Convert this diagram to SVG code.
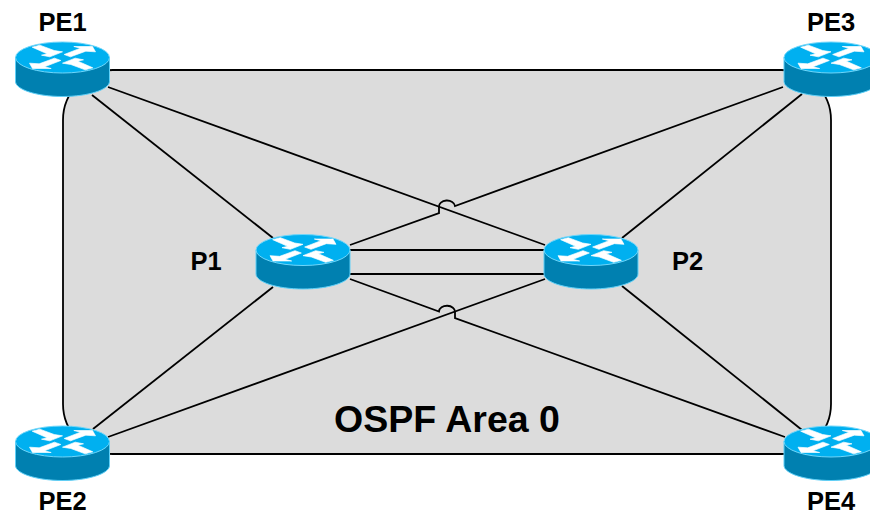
<svg xmlns="http://www.w3.org/2000/svg" width="870" height="514" viewBox="0 0 870 514">
<style>
text{font-family:"Liberation Sans",Arial,sans-serif;font-weight:bold;fill:#000;text-anchor:middle}
.lbl{font-size:25.5px}
.conn path{fill:none;stroke:#000;stroke-width:1.8}
.top{fill:#00b0f0;stroke:#6fd6fa;stroke-width:1}
.side{fill:#0080b0;stroke:#5fd0f8;stroke-width:1}
.arr{fill:#fff;stroke:#fff;stroke-width:2;stroke-linejoin:round}
</style>
<defs>
<g id="router">
<path class="side" d="M-47 0V24C-47 32 -26 39 0 39S47 32 47 24V0Z"/>
<ellipse class="top" cx="0" cy="0" rx="47" ry="15.5"/>
<g transform="scale(.3333)">
<polygon class="arr" points="-91,-31 -68,-37 -25,-21 0,-17 -38,-2 -63,-7 -46,-11"/>
<polygon class="arr" points="34,-33 90,-33 99,-17 70,-19 24,-2 5,-9 54,-28"/>
<polygon class="arr" points="-34,33 -90,33 -99,17 -70,19 -24,2 -5,9 -54,28"/>
<polygon class="arr" points="91,31 68,37 25,21 0,17 38,2 63,7 46,11"/>
</g>
</g>
</defs>
<rect id="area" x="63" y="70" width="768" height="384" rx="50" ry="50" fill="#dcdcdc" stroke="#000" stroke-width="1.8"/>
<g id="connectors" class="conn">
<path d="M92 95L273 238"/>
<path d="M108 87L545 245"/>
<path d="M783 87L455 206A8 6 0 0 0 439 207V213L350 245"/>
<path d="M802 94L622 238"/>
<path d="M350 250H545"/>
<path d="M350 274H545"/>
<path d="M93 429L273 287"/>
<path d="M108 437L545 279"/>
<path d="M350 279L439 311.5A8 6 0 0 1 455 312V318L785 437"/>
<path d="M622 286L802 430"/>
</g>
<g id="PE1"><use href="#router" x="62.5" y="57.5"/><text class="lbl" x="62.5" y="30.5">PE1</text></g>
<g id="PE3"><use href="#router" x="831" y="57.5"/><text class="lbl" x="831" y="30.5">PE3</text></g>
<g id="P1"><use href="#router" x="303" y="250"/><text class="lbl" x="206" y="270">P1</text></g>
<g id="P2"><use href="#router" x="591" y="250"/><text class="lbl" x="687.5" y="270">P2</text></g>
<g id="PE2"><use href="#router" x="62.5" y="441.5"/><text class="lbl" x="62.5" y="510">PE2</text></g>
<g id="PE4"><use href="#router" x="831" y="441.5"/><text class="lbl" x="831" y="510">PE4</text></g>
<text id="area-label" x="447" y="432" font-size="37.5">OSPF Area 0</text>
</svg>
